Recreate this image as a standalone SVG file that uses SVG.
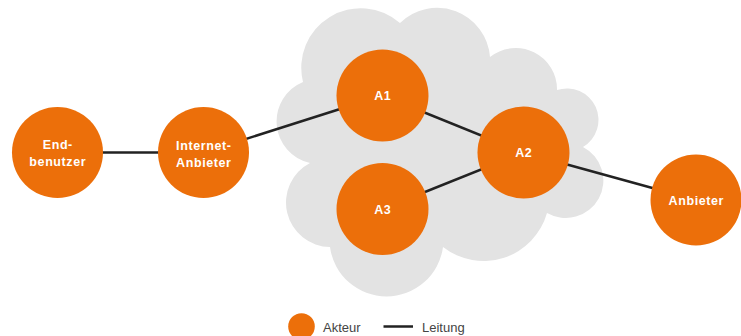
<svg xmlns="http://www.w3.org/2000/svg" width="741" height="336" viewBox="0 0 741 336">
  <style>
    .node { fill: #EC6F0A; }
    .lbl { font-family: "Liberation Sans", Arial, sans-serif; font-weight: bold; font-size: 12.5px; fill: #ffffff; text-anchor: middle; letter-spacing: 0.6px; }
    .edge { stroke: #222222; stroke-width: 2.5; fill: none; }
    .leg { font-family: "Liberation Sans", Arial, sans-serif; font-size: 13px; fill: #444444; }
  </style>
  <rect width="741" height="336" fill="#ffffff"/>
  <g id="cloud">
    <path fill="#E3E3E3" d="M303,82 A59.5,59.5 0 0 1 400,23 A53,53 0 0 1 490,57 A41.3,41.3 0 0 1 557,90 A31.5,31.5 0 0 1 583,147 A37.6,37.6 0 1 1 547,213 A65.9,65.9 0 0 1 443,247 A57,57 0 0 1 330,247 A44.5,44.5 0 0 1 310,163 A42.6,42.6 0 0 1 303,82 Z"/>
  </g>
  <g id="connectors">
    <line class="edge" x1="57" y1="152.5" x2="203.5" y2="152.5"/>
    <line class="edge" x1="203.5" y1="152.5" x2="382.5" y2="95.5"/>
    <line class="edge" x1="382.5" y1="95.5" x2="523.5" y2="152.5"/>
    <line class="edge" x1="382.5" y1="209" x2="523.5" y2="152.5"/>
    <line class="edge" x1="523.5" y1="152.5" x2="696" y2="200"/>
  </g>
  <g id="endbenutzer">
    <circle class="node" cx="57.5" cy="152.5" r="45.5"/>
    <text class="lbl" x="57.8" y="149">End-</text>
    <text class="lbl" x="57.8" y="165.5">benutzer</text>
  </g>
  <g id="internet-anbieter">
    <circle class="node" cx="203.5" cy="152.5" r="45.5"/>
    <text class="lbl" x="203.8" y="150">Internet-</text>
    <text class="lbl" x="203.8" y="166.5">Anbieter</text>
  </g>
  <g id="a1">
    <circle class="node" cx="382.5" cy="95.5" r="46"/>
    <text class="lbl" x="382.8" y="100">A1</text>
  </g>
  <g id="a2">
    <circle class="node" cx="523.5" cy="152.5" r="46"/>
    <text class="lbl" x="523.8" y="157">A2</text>
  </g>
  <g id="a3">
    <circle class="node" cx="382.5" cy="209" r="46"/>
    <text class="lbl" x="382.8" y="214">A3</text>
  </g>
  <g id="anbieter">
    <circle class="node" cx="696" cy="200" r="45.5"/>
    <text class="lbl" x="696.3" y="204.5">Anbieter</text>
  </g>
  <g id="legend">
    <circle class="node" cx="301.5" cy="326.5" r="13.3"/>
    <text class="leg" x="323" y="331.5">Akteur</text>
    <line class="edge" x1="383.5" y1="326.5" x2="413" y2="326.5"/>
    <text class="leg" x="422" y="331.5">Leitung</text>
  </g>
</svg>
